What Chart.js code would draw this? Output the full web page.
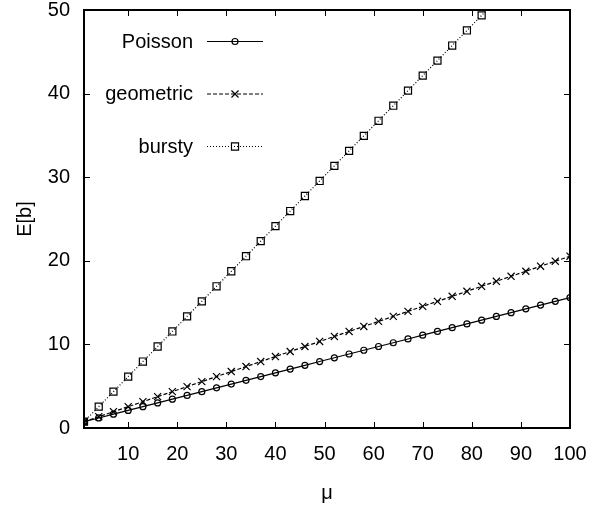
<!DOCTYPE html>
<html>
<head>
<meta charset="utf-8">
<script src="https://cdn.jsdelivr.net/npm/chart.js@4/dist/chart.umd.min.js"></script>
<style>
  html, body { margin: 0; padding: 0; background: #fff; }
  canvas { display: block; }
</style>
</head>
<body>
<canvas id="c" width="605" height="510"></canvas>
<script>
// Mean batch size E[b] against arrival rate mu
const mu = [1, 4, 7, 10, 13, 16, 19, 22, 25, 28, 31, 34, 37, 40, 43, 46, 49,
            52, 55, 58, 61, 64, 67, 70, 73, 76, 79, 82, 85, 88, 91, 94, 97, 100];

const poisson = [0.75, 1.20, 1.65, 2.10, 2.55, 3.00, 3.45, 3.90, 4.35, 4.80, 5.25, 5.70,
                 6.15, 6.60, 7.05, 7.50, 7.95, 8.40, 8.85, 9.30, 9.75, 10.20, 10.65, 11.10,
                 11.55, 12.00, 12.45, 12.90, 13.35, 13.80, 14.25, 14.70, 15.15, 15.60];

const geometric = [0.75, 1.35, 1.95, 2.55, 3.15, 3.75, 4.35, 4.95, 5.55, 6.15, 6.75, 7.35,
                   7.95, 8.55, 9.15, 9.75, 10.35, 10.95, 11.55, 12.15, 12.75, 13.35, 13.95, 14.55,
                   15.15, 15.75, 16.35, 16.95, 17.55, 18.15, 18.75, 19.35, 19.95, 20.55];

const bursty = [0.75, 2.55, 4.35, 6.15, 7.95, 9.75, 11.55, 13.35, 15.15, 16.95, 18.75, 20.55,
                22.35, 24.15, 25.95, 27.75, 29.55, 31.35, 33.15, 34.95, 36.75, 38.55, 40.35,
                42.15, 43.95, 45.75, 47.55, 49.35, 51.15];

const xTicks = [10, 20, 30, 40, 50, 60, 70, 80, 90, 100];
const yTicks = [0, 10, 20, 30, 40, 50];

const FONT = "'Liberation Sans', Arial, Helvetica, sans-serif";

function pts(ys) {
  return ys.map((y, i) => ({ x: mu[i], y: y }));
}

// Frame, mirrored inward tick marks and the key inside the plot
const framePlugin = {
  id: 'frame',
  afterDraw(chart) {
    const { ctx, chartArea: a, scales } = chart;
    const tl = 6;
    ctx.save();
    ctx.strokeStyle = '#000';
    ctx.lineWidth = 1;
    ctx.beginPath();
    xTicks.forEach(v => {
      const px = Math.round(scales.x.getPixelForValue(v)) + 0.5;
      ctx.moveTo(px, a.bottom); ctx.lineTo(px, a.bottom - tl);
      ctx.moveTo(px, a.top); ctx.lineTo(px, a.top + tl);
    });
    yTicks.forEach(v => {
      const py = Math.round(scales.y.getPixelForValue(v)) + 0.5;
      ctx.moveTo(a.left, py); ctx.lineTo(a.left + tl, py);
      ctx.moveTo(a.right, py); ctx.lineTo(a.right - tl, py);
    });
    ctx.stroke();
    ctx.lineWidth = 2;
    ctx.strokeRect(a.left, a.top, a.right - a.left, a.bottom - a.top);

    // key
    const rows = [41, 93.5, 146];
    const textRight = 193, lineL = 207, lineR = 263, markX = 235;
    ctx.font = '20px ' + FONT;
    ctx.textAlign = 'right';
    ctx.textBaseline = 'middle';
    chart.data.datasets.forEach((ds, i) => {
      const y = rows[i];
      ctx.fillStyle = '#000';
      ctx.fillText(ds.label, textRight, y + 1);
      ctx.strokeStyle = ds.borderColor;
      ctx.lineWidth = ds.borderWidth;
      ctx.setLineDash(ds.borderDash || []);
      ctx.beginPath();
      ctx.moveTo(lineL, y + 0.5);
      ctx.lineTo(lineR, y + 0.5);
      ctx.stroke();
      ctx.setLineDash([]);
      ctx.fillStyle = 'rgba(0,0,0,0)';
      ctx.strokeStyle = ds.pointBorderColor;
      ctx.lineWidth = ds.pointBorderWidth;
      Chart.helpers.drawPoint(ctx, {
        pointStyle: ds.pointStyle,
        radius: ds.pointRadius,
        rotation: 0,
        borderWidth: ds.pointBorderWidth
      }, markX, y + 0.5);
    });
    ctx.restore();
  }
};

new Chart(document.getElementById('c'), {
  type: 'line',
  data: {
    datasets: [
      {
        label: 'Poisson',
        data: pts(poisson),
        borderColor: '#000',
        borderWidth: 1.2,
        borderDash: [],
        pointStyle: 'circle',
        pointRadius: 3,
        pointBorderWidth: 1.2,
        pointBorderColor: '#000',
        pointBackgroundColor: 'rgba(0,0,0,0)'
      },
      {
        label: 'geometric',
        data: pts(geometric),
        borderColor: '#000',
        borderWidth: 1.2,
        borderDash: [4, 2],
        pointStyle: 'crossRot',
        pointRadius: 5,
        pointBorderWidth: 1.2,
        pointBorderColor: '#000',
        pointBackgroundColor: 'rgba(0,0,0,0)'
      },
      {
        label: 'bursty',
        data: pts(bursty),
        borderColor: '#000',
        borderWidth: 1.2,
        borderDash: [1, 2],
        pointStyle: 'rect',
        pointRadius: 5,
        pointBorderWidth: 1.2,
        pointBorderColor: '#000',
        pointBackgroundColor: 'rgba(0,0,0,0)'
      }
    ]
  },
  options: {
    responsive: false,
    animation: false,
    events: [],
    layout: { padding: { left: 0, right: 35, top: 10, bottom: 0 } },
    plugins: { legend: { display: false }, tooltip: { enabled: false } },
    elements: { line: { tension: 0 } },
    scales: {
      x: {
        type: 'linear',
        min: 1,
        max: 100,
        afterFit(s) { s.height = 82; s.paddingLeft = 0; s.paddingRight = 0; },
        afterBuildTicks(s) { s.ticks = xTicks.map(v => ({ value: v })); },
        grid: { display: false, drawTicks: false },
        border: { display: false },
        ticks: {
          autoSkip: false,
          maxRotation: 0,
          padding: 14,
          color: '#000',
          font: { family: FONT, size: 20 }
        },
        title: {
          display: true,
          text: 'μ',
          color: '#000',
          padding: { top: 0, bottom: 5 },
          font: { family: FONT, size: 20 }
        }
      },
      y: {
        type: 'linear',
        min: 0,
        max: 50,
        afterFit(s) { s.width = 84; s.paddingTop = 0; s.paddingBottom = 0; },
        afterBuildTicks(s) { s.ticks = yTicks.map(v => ({ value: v })); },
        grid: { display: false, drawTicks: false },
        border: { display: false },
        ticks: {
          padding: 14,
          color: '#000',
          font: { family: FONT, size: 20 }
        },
        title: {
          display: true,
          text: 'E[b]',
          color: '#000',
          padding: { top: 13, bottom: 0 },
          font: { family: FONT, size: 20 }
        }
      }
    }
  },
  plugins: [framePlugin]
});
</script>
</body>
</html>
